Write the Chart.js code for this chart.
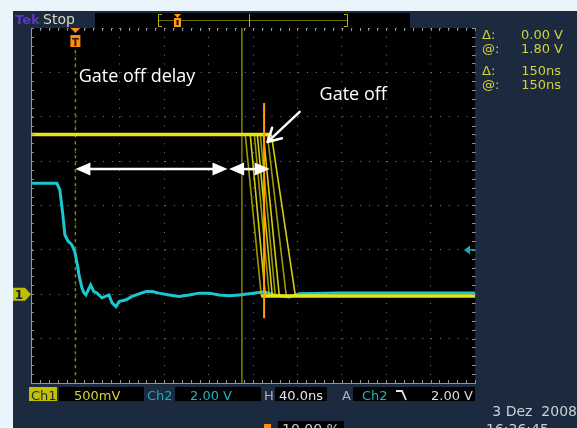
<!DOCTYPE html>
<html lang="en">
<head>
<meta charset="UTF-8">
<script src="https://cdn.jsdelivr.net/npm/chart.js@4.4.0/dist/chart.umd.min.js"></script>
<title>Gate off delay</title>
<style>
  body { margin: 0; background: #eaf4fb; }
  canvas { display: block; }
</style>
</head>
<body>
<canvas id="scope" width="577" height="428"></canvas>
<script>
// time axis in ns, trigger at 0, 40 ns/div, 10 divisions
const timeRange = [-40, 360];

// Ch2 (cyan), volts
const ch2Time = [-40, -16.7, -14, -11.3, -9.5, -6.8, -3.2, -0.5, 2.3, 3.2, 5.9, 7.7, 9.5, 13.7, 16.7, 19.4,
  23.9, 30.2, 33, 36.6, 39.3, 45.6, 51, 57.3, 63.7, 69, 75.4, 84.4, 93.4, 102.5, 111.5, 120.5, 129.5,
  138.6, 147.6, 156.6, 165.6, 170, 179, 192.6, 201.6, 237.7, 291.9, 360];
const ch2Volts = [3.0, 3.0, 2.70, 1.58, 0.68, 0.41, 0.23, -0.09, -0.81, -1.13, -1.71, -1.94, -2.03, -1.58, -1.88, -1.94,
  -2.16, -2.03, -2.39, -2.56, -2.33, -2.25, -2.10, -1.98, -1.88, -1.88, -1.95, -2.03, -2.10, -2.03, -1.95, -1.95, -2.03,
  -2.07, -2.03, -1.98, -1.92, -1.89, -2.03, -2.12, -1.98, -1.94, -1.94, -1.94];

// Ch1 (yellow), volts, persistence of several gate-off edges
const ch1High = 1.80;
const ch1Low = -0.02;
const edgeStart = [153, 157.5, 161.2, 163.9, 166.6, 169.3, 172.9, 176.5];
const edgeEnd = [167.5, 171.1, 174.7, 177.4, 180.1, 183.7, 190, 198.2];

// cursors / markers (ns)
const cursorTime = 150;
const gateOffTime = 170;
const triggerTime = 0;

// channel settings: volts per division, ground position in divisions from centre
const ch1 = { vdiv: 0.5, offset: -2 };
const ch2 = { vdiv: 2, offset: -1 };
const toDiv = (v, ch) => v / ch.vdiv + ch.offset;

const YEL = '#e8e412';
const CYAN = '#1cc7d0';
const READ = '#d6d03c';

const datasets = [];
// bright flat parts of ch1
datasets.push({
  data: [{ x: timeRange[0], y: toDiv(ch1High, ch1) }, { x: edgeStart[edgeStart.length - 1], y: toDiv(ch1High, ch1) }],
  borderColor: YEL, borderWidth: 3.5, order: 1
});
datasets.push({
  data: [{ x: edgeEnd[0], y: toDiv(ch1Low, ch1) }, { x: timeRange[1], y: toDiv(ch1Low, ch1) }],
  borderColor: YEL, borderWidth: 3.5, order: 1
});
edgeStart.forEach((s, i) => {
  datasets.push({
    data: [{ x: s, y: toDiv(ch1High, ch1) }, { x: edgeEnd[i], y: toDiv(ch1Low, ch1) }],
    borderColor: i % 2 ? 'rgba(235,230,15,0.9)' : 'rgba(200,195,0,0.8)',
    borderWidth: 1.6, order: 2
  });
});
datasets.push({
  data: ch2Time.map((t, i) => ({ x: t, y: toDiv(ch2Volts[i], ch2) })),
  borderColor: CYAN, borderWidth: 3, order: 3
});
// vertical cursor
datasets.push({
  data: [{ x: cursorTime, y: -4 }, { x: cursorTime, y: 4 }],
  borderColor: '#828000', borderWidth: 1.5, order: 4
});
// trigger position line
datasets.push({
  data: [{ x: triggerTime, y: 3.5 }, { x: triggerTime, y: -4 }],
  borderColor: '#8a8600', borderWidth: 1.5, borderDash: [3, 4], order: 5
});
// gate off marker
datasets.push({
  data: [{ x: gateOffTime, y: 2.31 }, { x: gateOffTime, y: -2.54 }],
  borderColor: '#ffa000', borderWidth: 2, order: 0
});

// annotation positions in data units (ns, divisions)
const notes = {
  delayLabel: { t: 3, d: 2.78 },
  offLabel: { t: 220, d: 2.38 },
  delayArrow: { from: 0, to: 137, d: 0.82 },
  offArrow: { from: 138.5, to: 175, d: 0.82 },
  pointer: { from: [202, 2.11], to: [173, 1.43] }
};

function head(ctx, x0, y0, x1, y1, len, half) {
  const a = Math.atan2(y1 - y0, x1 - x0);
  const c = Math.cos(a), s = Math.sin(a);
  ctx.beginPath();
  ctx.moveTo(x1, y1);
  ctx.lineTo(x1 - len * c + half * s, y1 - len * s - half * c);
  ctx.lineTo(x1 - len * c - half * s, y1 - len * s + half * c);
  ctx.closePath();
  ctx.fill();
}

function doubleArrow(ctx, xa, xb, y) {
  ctx.lineWidth = 2.5;
  ctx.beginPath();
  ctx.moveTo(xa + 8, y);
  ctx.lineTo(xb - 8, y);
  ctx.stroke();
  head(ctx, xb, y, xa, y, 15, 6.5);
  head(ctx, xa, y, xb, y, 15, 6.5);
}

function box(ctx, x, y, w, h, color) {
  ctx.fillStyle = color;
  ctx.fillRect(x, y, w, h);
}

function txt(ctx, s, x, y, color, font, align) {
  ctx.fillStyle = color;
  ctx.font = font || '13px "DejaVu Sans"';
  ctx.textAlign = align || 'left';
  ctx.textBaseline = 'alphabetic';
  ctx.fillText(s, x, y);
}

const scopeChrome = {
  id: 'scopeChrome',
  beforeDraw(chart) {
    const { ctx, chartArea: a } = chart;
    ctx.save();
    ctx.fillStyle = '#eaf4fb';
    ctx.fillRect(0, 0, chart.width, chart.height);
    ctx.fillStyle = '#1b2a3e';
    ctx.fillRect(13, 11, chart.width - 13, chart.height - 11);
    ctx.fillStyle = '#000';
    ctx.fillRect(a.left, a.top, a.right - a.left, a.bottom - a.top);
    ctx.restore();
  },
  afterDraw(chart) {
    const { ctx, chartArea: a, scales: { x, y } } = chart;
    ctx.save();

    // border ticks, 5 per division
    ctx.strokeStyle = '#8a96a3';
    ctx.lineWidth = 1;
    ctx.beginPath();
    for (let t = timeRange[0]; t <= timeRange[1]; t += 8) {
      const px = Math.round(x.getPixelForValue(t)) + 0.5;
      ctx.moveTo(px, a.top); ctx.lineTo(px, a.top + 3);
      ctx.moveTo(px, a.bottom); ctx.lineTo(px, a.bottom - 3);
    }
    for (let d = -4; d <= 4.001; d += 0.2) {
      const py = Math.round(y.getPixelForValue(d)) + 0.5;
      ctx.moveTo(a.left, py); ctx.lineTo(a.left + 3, py);
      ctx.moveTo(a.right, py); ctx.lineTo(a.right - 3, py);
    }
    ctx.stroke();

    // header
    txt(ctx, 'Tek', 15, 24, '#5a38c0', 'bold 13px "DejaVu Sans"');
    txt(ctx, 'Stop', 43, 24, '#d9d9bd', '14px "DejaVu Sans"');
    box(ctx, 95, 13, 315, 15, '#000');
    ctx.strokeStyle = '#b8b400';
    ctx.lineWidth = 1;
    ctx.beginPath();
    ctx.moveTo(162, 14.5); ctx.lineTo(158.5, 14.5); ctx.lineTo(158.5, 26.5); ctx.lineTo(162, 26.5);
    ctx.moveTo(344, 14.5); ctx.lineTo(347.5, 14.5); ctx.lineTo(347.5, 26.5); ctx.lineTo(344, 26.5);
    ctx.stroke();
    ctx.strokeStyle = '#6e6c00';
    ctx.beginPath();
    ctx.moveTo(159, 20.5); ctx.lineTo(347, 20.5);
    ctx.stroke();
    ctx.strokeStyle = '#b8b400';
    ctx.beginPath();
    ctx.moveTo(249.5, 14); ctx.lineTo(249.5, 27);
    ctx.stroke();
    ctx.fillStyle = '#ff9a10';
    ctx.beginPath();
    ctx.moveTo(174, 14); ctx.lineTo(181, 14); ctx.lineTo(177.5, 18); ctx.closePath(); ctx.fill();
    ctx.fillRect(174, 18, 7, 9);
    ctx.fillStyle = '#000';
    ctx.fillRect(176.5, 20, 2, 5);

    // trigger marker at top of graticule
    const tx = x.getPixelForValue(triggerTime);
    ctx.fillStyle = '#ff8c10';
    ctx.beginPath();
    ctx.moveTo(tx - 5, a.top); ctx.lineTo(tx + 5, a.top); ctx.lineTo(tx, a.top + 5); ctx.closePath(); ctx.fill();
    ctx.fillRect(tx - 5, a.top + 7, 10, 12);
    txt(ctx, 'T', tx, a.top + 17.5, '#2a1a00', 'bold 10px "DejaVu Sans"', 'center');

    // channel ground markers
    const g1 = y.getPixelForValue(ch1.offset);
    ctx.fillStyle = '#bfbc00';
    ctx.beginPath();
    ctx.moveTo(13, g1 - 6.5); ctx.lineTo(25, g1 - 6.5); ctx.lineTo(a.left, g1);
    ctx.lineTo(25, g1 + 6.5); ctx.lineTo(13, g1 + 6.5); ctx.closePath(); ctx.fill();
    txt(ctx, '1', 19, g1 + 4.5, '#15202c', 'bold 12px "DejaVu Sans"', 'center');
    const g2 = y.getPixelForValue(ch2.offset);
    ctx.fillStyle = '#18aab4';
    ctx.beginPath();
    ctx.moveTo(a.right - 11, g2); ctx.lineTo(a.right - 5, g2 - 4.5); ctx.lineTo(a.right - 5, g2 + 4.5);
    ctx.closePath(); ctx.fill();
    ctx.strokeStyle = '#18aab4';
    ctx.lineWidth = 1.5;
    ctx.beginPath(); ctx.moveTo(a.right - 6, g2); ctx.lineTo(a.right, g2); ctx.stroke();

    // cursor readouts
    txt(ctx, '\u0394:', 482, 39, READ);
    txt(ctx, '0.00 V', 563, 39, READ, null, 'right');
    txt(ctx, '@:', 482, 53, READ);
    txt(ctx, '1.80 V', 563, 53, READ, null, 'right');
    txt(ctx, '\u0394:', 482, 75, READ);
    txt(ctx, '150ns', 561, 75, READ, null, 'right');
    txt(ctx, '@:', 482, 89, READ);
    txt(ctx, '150ns', 561, 89, READ, null, 'right');

    // status line
    box(ctx, 29, 387, 28, 14, '#c4c000');
    txt(ctx, 'Ch1', 31, 400, '#1b2a3e');
    box(ctx, 59, 387, 85, 14, '#000');
    txt(ctx, '500mV', 74, 400, READ);
    txt(ctx, 'Ch2', 147, 400, '#1fa9b8');
    box(ctx, 175, 387, 86, 14, '#000');
    txt(ctx, '2.00 V', 190, 400, '#1fb4c2');
    txt(ctx, 'H', 264, 400, '#a8b0b8');
    box(ctx, 275, 387, 52, 14, '#000');
    txt(ctx, '40.0ns', 279, 400, '#e6e6e6');
    txt(ctx, 'A', 342, 400, '#a8b0b8');
    box(ctx, 353, 387, 122, 14, '#000');
    txt(ctx, 'Ch2', 362, 400, '#1fb4c2');
    ctx.strokeStyle = '#e6e6e6';
    ctx.lineWidth = 1.8;
    ctx.beginPath();
    ctx.moveTo(396, 391); ctx.lineTo(402, 391); ctx.lineTo(406, 400);
    ctx.stroke();
    txt(ctx, '2.00 V', 473, 400, '#dcdcdc', null, 'right');

    // date / trigger position
    txt(ctx, '3 Dez  2008', 577, 416, '#c9d1da', '14px "DejaVu Sans"', 'right');
    txt(ctx, '16:36:45', 486, 434, '#c9d1da', '14px "DejaVu Sans"');
    box(ctx, 264, 424, 7, 8, '#ff8c10');
    box(ctx, 278, 421, 66, 10, '#000');
    txt(ctx, '10.00 %', 282, 434, '#c9d1da', '14px "DejaVu Sans"');

    // annotations
    ctx.fillStyle = '#fff';
    ctx.strokeStyle = '#fff';
    const yd = y.getPixelForValue(notes.delayArrow.d);
    doubleArrow(ctx, x.getPixelForValue(notes.delayArrow.from), x.getPixelForValue(notes.delayArrow.to), yd);
    doubleArrow(ctx, x.getPixelForValue(notes.offArrow.from), x.getPixelForValue(notes.offArrow.to), yd);

    const p0x = x.getPixelForValue(notes.pointer.from[0]), p0y = y.getPixelForValue(notes.pointer.from[1]);
    const p1x = x.getPixelForValue(notes.pointer.to[0]), p1y = y.getPixelForValue(notes.pointer.to[1]);
    const ang = Math.atan2(p1y - p0y, p1x - p0x);
    ctx.lineWidth = 2.5;
    ctx.lineCap = 'round';
    ctx.beginPath();
    ctx.moveTo(p0x, p0y); ctx.lineTo(p1x, p1y);
    [0.5, -0.5].forEach(da => {
      ctx.moveTo(p1x, p1y);
      ctx.lineTo(p1x - 15 * Math.cos(ang + da), p1y - 15 * Math.sin(ang + da));
    });
    ctx.stroke();

    txt(ctx, 'Gate off delay', x.getPixelForValue(notes.delayLabel.t), y.getPixelForValue(notes.delayLabel.d),
      '#fff', '18px "Open Sans"');
    txt(ctx, 'Gate off', x.getPixelForValue(notes.offLabel.t), y.getPixelForValue(notes.offLabel.d),
      '#fff', '18px "Open Sans"');
    ctx.restore();
  }
};

const grid = { color: '#7c7c7c', lineWidth: 1, drawTicks: false };
const border = { display: true, color: '#8a96a3', width: 1, dash: [1, 7.87] };

new Chart(document.getElementById('scope'), {
  type: 'line',
  data: { datasets },
  options: {
    responsive: false,
    animation: false,
    devicePixelRatio: 1,
    events: [],
    layout: { padding: { left: 31, top: 28, right: 102, bottom: 45 } },
    elements: { point: { radius: 0 }, line: { tension: 0 } },
    scales: {
      x: {
        type: 'linear', min: timeRange[0], max: timeRange[1],
        ticks: { display: false, stepSize: 40 },
        grid, border
      },
      y: {
        type: 'linear', min: -4, max: 4,
        ticks: { display: false, stepSize: 1 },
        grid, border
      }
    },
    plugins: { legend: { display: false }, tooltip: { enabled: false } }
  },
  plugins: [scopeChrome]
});
</script>
</body>
</html>
